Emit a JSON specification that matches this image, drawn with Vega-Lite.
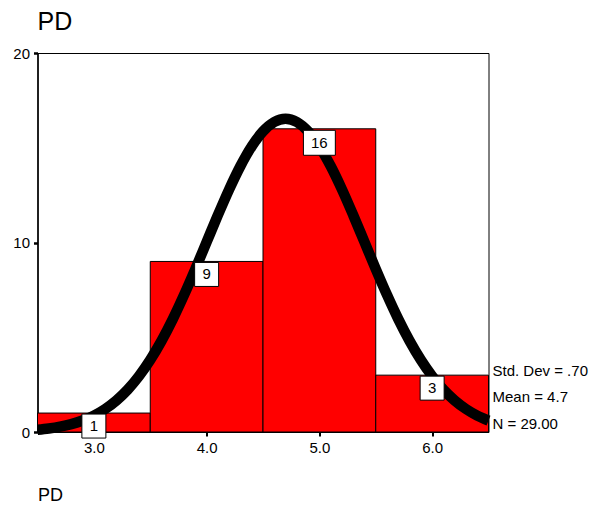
{
  "$schema": "https://vega.github.io/schema/vega-lite/v6.json",
  "width": 451,
  "height": 379,
  "autosize": {"type": "none"},
  "padding": {"left": 37.5, "top": 53, "right": 101.5, "bottom": 78},
  "background": "white",
  "config": {
    "font": "Liberation Sans",
    "view": {"stroke": "black", "strokeWidth": 1},
    "axis": {"grid": false, "labelColor": "black", "titleColor": "black", "domainColor": "black", "tickColor": "black", "labelFontSize": 15, "labelFont": "Liberation Sans", "titleFont": "Liberation Sans"}
  },
  "title": {"text": "PD", "anchor": "start", "frame": "group", "fontSize": 25, "fontWeight": "normal", "offset": 11, "color": "black", "font": "Liberation Sans"},
  "datasets": {
    "bars": [
      {"bin_start": 2.5, "bin_end": 3.5, "mid": 3.0, "count": 1},
      {"bin_start": 3.5, "bin_end": 4.5, "mid": 4.0, "count": 9},
      {"bin_start": 4.5, "bin_end": 5.5, "mid": 5.0, "count": 16},
      {"bin_start": 5.5, "bin_end": 6.5, "mid": 6.0, "count": 3}
    ],
    "curve": [
      {"x": 2.5, "y": 0.118}, {"x": 2.6, "y": 0.184}, {"x": 2.7, "y": 0.279}, {"x": 2.8, "y": 0.415},
      {"x": 2.9, "y": 0.606}, {"x": 3.0, "y": 0.866}, {"x": 3.1, "y": 1.213}, {"x": 3.2, "y": 1.664},
      {"x": 3.3, "y": 2.237}, {"x": 3.4, "y": 2.947}, {"x": 3.5, "y": 3.803}, {"x": 3.6, "y": 4.808},
      {"x": 3.7, "y": 5.957}, {"x": 3.8, "y": 7.232}, {"x": 3.9, "y": 8.602}, {"x": 4.0, "y": 10.025},
      {"x": 4.1, "y": 11.447}, {"x": 4.2, "y": 12.806}, {"x": 4.3, "y": 14.038}, {"x": 4.4, "y": 15.078},
      {"x": 4.5, "y": 15.867}, {"x": 4.6, "y": 16.36}, {"x": 4.7, "y": 16.528}, {"x": 4.8, "y": 16.36},
      {"x": 4.9, "y": 15.867}, {"x": 5.0, "y": 15.078}, {"x": 5.1, "y": 14.038}, {"x": 5.2, "y": 12.806},
      {"x": 5.3, "y": 11.447}, {"x": 5.4, "y": 10.025}, {"x": 5.5, "y": 8.602}, {"x": 5.6, "y": 7.232},
      {"x": 5.7, "y": 5.957}, {"x": 5.8, "y": 4.808}, {"x": 5.9, "y": 3.803}, {"x": 6.0, "y": 2.947},
      {"x": 6.1, "y": 2.237}, {"x": 6.2, "y": 1.664}, {"x": 6.3, "y": 1.213}, {"x": 6.4, "y": 0.866},
      {"x": 6.5, "y": 0.606}
    ],
    "stats": [
      {"stat": "Std. Dev = .70", "level": 3.2},
      {"stat": "Mean = 4.7", "level": 1.85},
      {"stat": "N = 29.00", "level": 0.4}
    ]
  },
  "layer": [
    {
      "data": {"name": "bars"},
      "mark": {"type": "rect", "fill": "#ff0000", "stroke": "black", "strokeWidth": 1},
      "encoding": {
        "x": {"field": "bin_start", "type": "quantitative", "scale": {"domain": [2.5, 6.5], "nice": false, "zero": false},
          "axis": {"values": [3, 4, 5, 6], "format": ".1f", "title": "PD", "titleAnchor": "start", "titleAlign": "left", "titleFontSize": 18, "titleFontWeight": "normal", "titlePadding": 31, "tickSize": 4, "tickWidth": 2, "labelPadding": 4, "labelFontSize": 15, "domain": false}},
        "x2": {"field": "bin_end"},
        "y": {"field": "count", "type": "quantitative", "scale": {"domain": [0, 20], "nice": false},
          "axis": {"values": [0, 10, 20], "title": null, "tickSize": 4, "tickWidth": 2.5, "labelPadding": 4, "labelFontSize": 15, "domainWidth": 1.5}},
        "y2": {"datum": 0}
      }
    },
    {
      "data": {"name": "curve"},
      "mark": {"type": "line", "color": "black", "strokeWidth": 10.5, "interpolate": "monotone", "strokeCap": "butt", "clip": false},
      "encoding": {
        "x": {"field": "x", "type": "quantitative"},
        "y": {"field": "y", "type": "quantitative"}
      }
    },
    {
      "data": {"name": "bars"},
      "transform": [{"filter": "datum.count < 10"}],
      "mark": {"type": "point", "shape": "square", "size": 576, "filled": true, "fill": "white", "stroke": "black", "strokeWidth": 1, "opacity": 1, "yOffset": 13},
      "encoding": {
        "x": {"field": "mid", "type": "quantitative"},
        "y": {"field": "count", "type": "quantitative"}
      }
    },
    {
      "data": {"name": "bars"},
      "transform": [{"filter": "datum.count >= 10"}],
      "mark": {"type": "point", "shape": "M-1.33,-1.04H1.33V1.04H-1.33Z", "size": 576, "filled": true, "fill": "white", "stroke": "black", "strokeWidth": 1, "opacity": 1, "yOffset": 14},
      "encoding": {
        "x": {"field": "mid", "type": "quantitative"},
        "y": {"field": "count", "type": "quantitative"}
      }
    },
    {
      "data": {"name": "bars"},
      "transform": [{"filter": "datum.count < 10"}],
      "mark": {"type": "text", "fontSize": 15, "color": "black", "baseline": "middle", "align": "center", "yOffset": 13},
      "encoding": {
        "x": {"field": "mid", "type": "quantitative"},
        "y": {"field": "count", "type": "quantitative"},
        "text": {"field": "count", "type": "quantitative"}
      }
    },
    {
      "data": {"name": "bars"},
      "transform": [{"filter": "datum.count >= 10"}],
      "mark": {"type": "text", "fontSize": 15, "color": "black", "baseline": "middle", "align": "center", "yOffset": 14},
      "encoding": {
        "x": {"field": "mid", "type": "quantitative"},
        "y": {"field": "count", "type": "quantitative"},
        "text": {"field": "count", "type": "quantitative"}
      }
    },
    {
      "data": {"name": "stats"},
      "mark": {"type": "text", "fontSize": 15, "color": "black", "align": "left", "baseline": "middle", "dx": 4, "clip": false},
      "encoding": {
        "x": {"datum": 6.5, "type": "quantitative"},
        "y": {"field": "level", "type": "quantitative"},
        "text": {"field": "stat", "type": "nominal"}
      }
    }
  ]
}
